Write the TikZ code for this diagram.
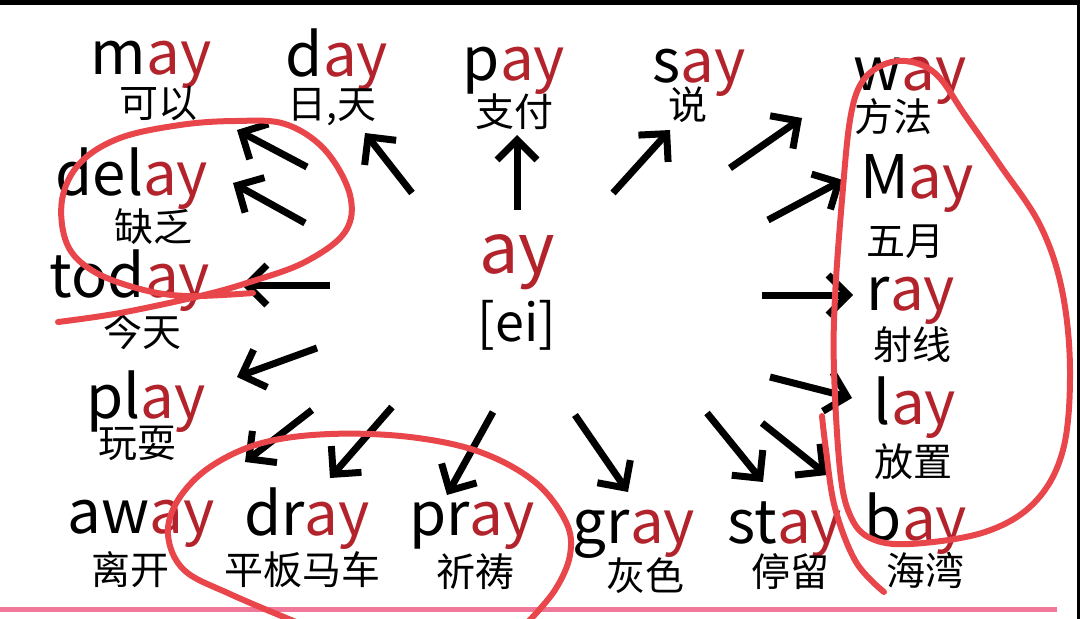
\documentclass[tikz,border=0pt]{standalone}
\usepackage{fontspec}
\setmainfont{Noto Sans CJK SC}
\usetikzlibrary{arrows.meta}
\definecolor{ayred}{HTML}{B3232B}
\definecolor{penred}{HTML}{E8464B}
\definecolor{rulepink}{HTML}{F2789A}
\newcommand{\ayword}[1]{#1\textcolor{ayred}{ay}}

\begin{document}
\begin{tikzpicture}[
    x=1pt, y=-1pt,
    word/.style={anchor=base, inner sep=0pt, font=\fontsize{60}{62}\selectfont},
    gloss/.style={inner sep=0pt, font=\fontsize{39}{41}\selectfont},
    arrow/.style={-{Straight Barb[length=20pt,width=40pt]}, line width=7pt},
    pen/.style={draw=penred, line width=6pt, line cap=round, line join=round}
]
\useasboundingbox (0,0) rectangle (1080,619);

% frame
\fill[black] (0,0) rectangle (1080,5);
\fill[black] (1077,0) rectangle (1080,619);
\fill[rulepink] (0,607) rectangle (1057,612);

% centre
\node[word, font=\fontsize{70}{72}\selectfont] (ay) at (517,273) {\textcolor{ayred}{ay}};
\node[gloss, font=\fontsize{52}{54}\selectfont] (ei) at (517,325) {[ei]};

% top row
\node[word] (may) at (151,74) {\ayword{m}};
\node[gloss] (may-zh) at (158,104) {可以};
\node[word] (day) at (337,76) {\ayword{d}};
\node[gloss] (day-zh) at (332,107) {日,天};
\node[word] (pay) at (514,80) {\ayword{p}};
\node[gloss] (pay-zh) at (514,112) {支付};
\node[word] (say) at (699,82) {\ayword{s}};
\node[gloss] (say-zh) at (688,105) {说};
\node[word] (way) at (910,90) {\ayword{w}};
\node[gloss] (way-zh) at (893,117) {方法};

% left column
\node[word] (delay) at (132,195) {\ayword{del}};
\node[gloss] (delay-zh) at (153,227) {缺乏};
\node[word] (today) at (130,297) {\ayword{tod}};
\node[gloss] (today-zh) at (142,332) {今天};
\node[word] (play) at (146,418) {\ayword{pl}};
\node[gloss] (play-zh) at (137,443) {玩耍};

% bottom row
\node[word] (away) at (141,533) {\ayword{aw}};
\node[gloss] (away-zh) at (130,570) {离开};
\node[word] (dray) at (307,535) {\ayword{dr}};
\node[gloss] (dray-zh) at (302,570) {平板马车};
\node[word] (pray) at (472,535) {\ayword{pr}};
\node[gloss] (pray-zh) at (475,572) {祈祷};
\node[word] (gray) at (634,543) {\ayword{gr}};
\node[gloss] (gray-zh) at (645,576) {灰色};
\node[word] (stay) at (785,543) {\ayword{st}};
\node[gloss] (stay-zh) at (790,572) {停留};
\node[word] (bay) at (916,540) {\ayword{b}};
\node[gloss] (bay-zh) at (925,570) {海湾};

% right column
\node[word] (May) at (917,198) {\ayword{M}};
\node[gloss] (May-zh) at (905,242) {五月};
\node[word] (ray) at (911,310) {\ayword{r}};
\node[gloss] (ray-zh) at (912,345) {射线};
\node[word] (lay) at (915,424) {\ayword{l}};
\node[gloss] (lay-zh) at (913,462) {放置};

% arrow ends
\coordinate (may-t) at (307,167);   \coordinate (may-h) at (237,130);
\coordinate (delay-t) at (305,223); \coordinate (delay-h) at (233,183);
\coordinate (day-t) at (412,193);   \coordinate (day-h) at (365,133);
\coordinate (pay-t) at (517,210);   \coordinate (pay-h) at (517,135);
\coordinate (say-t) at (613,193);   \coordinate (say-h) at (670,130);
\coordinate (way-t) at (730,168);   \coordinate (way-h) at (802,118);
\coordinate (May-t) at (768,220);   \coordinate (May-h) at (843,180);
\coordinate (ray-t) at (762,295);   \coordinate (ray-h) at (853,295);
\coordinate (lay-t) at (770,377);   \coordinate (lay-h) at (852,398);
\coordinate (bay-t) at (762,423);   \coordinate (bay-h) at (827,475);
\coordinate (stay-t) at (707,413);  \coordinate (stay-h) at (763,482);
\coordinate (gray-t) at (575,415);  \coordinate (gray-h) at (628,492);
\coordinate (pray-t) at (493,412);  \coordinate (pray-h) at (447,495);
\coordinate (dray-t) at (392,407);  \coordinate (dray-h) at (330,478);
\coordinate (away-t) at (312,410);  \coordinate (away-h) at (245,462);
\coordinate (play-t) at (317,348);  \coordinate (play-h) at (237,377);
\coordinate (today-t) at (330,285); \coordinate (today-h) at (242,285);

% ARROWS
\foreach \w in {may,delay,day,pay,say,way,May,ray,lay,bay,stay,gray,pray,dray,away,play,today}
    \draw[arrow] (\w-t) -- (\w-h);

% pen marks
\draw[pen] plot[smooth, tension=0.6] coordinates {(253,293) (187,296) (140,289) (93,271) (67,244) (62,200) (80,163) (120,138) (180,125) (235,121) (285,124) (325,150) (350,195) (345,232) (305,262) (250,282) (200,296) (120,313) (58,322)};
\draw[pen] plot[smooth, tension=0.6] coordinates {(296,622) (230,594) (184,570) (168,535) (178,500) (210,467) (262,443) (330,434) (410,437) (480,452) (535,482) (566,522) (570,555) (555,590) (528,622)};
\draw[pen] plot[smooth cycle, tension=0.6] coordinates {(834,370) (835,297) (842,200) (850,120) (862,82) (885,64) (912,62) (938,76) (965,115) (1000,165) (1040,225) (1062,290) (1070,370) (1063,450) (1035,502) (985,532) (910,544) (870,538) (850,515) (840,470)};
\draw[pen] plot[smooth, tension=0.6] coordinates {(822,416) (826,450) (835,508) (856,562) (884,592)};

\end{tikzpicture}
\end{document}
